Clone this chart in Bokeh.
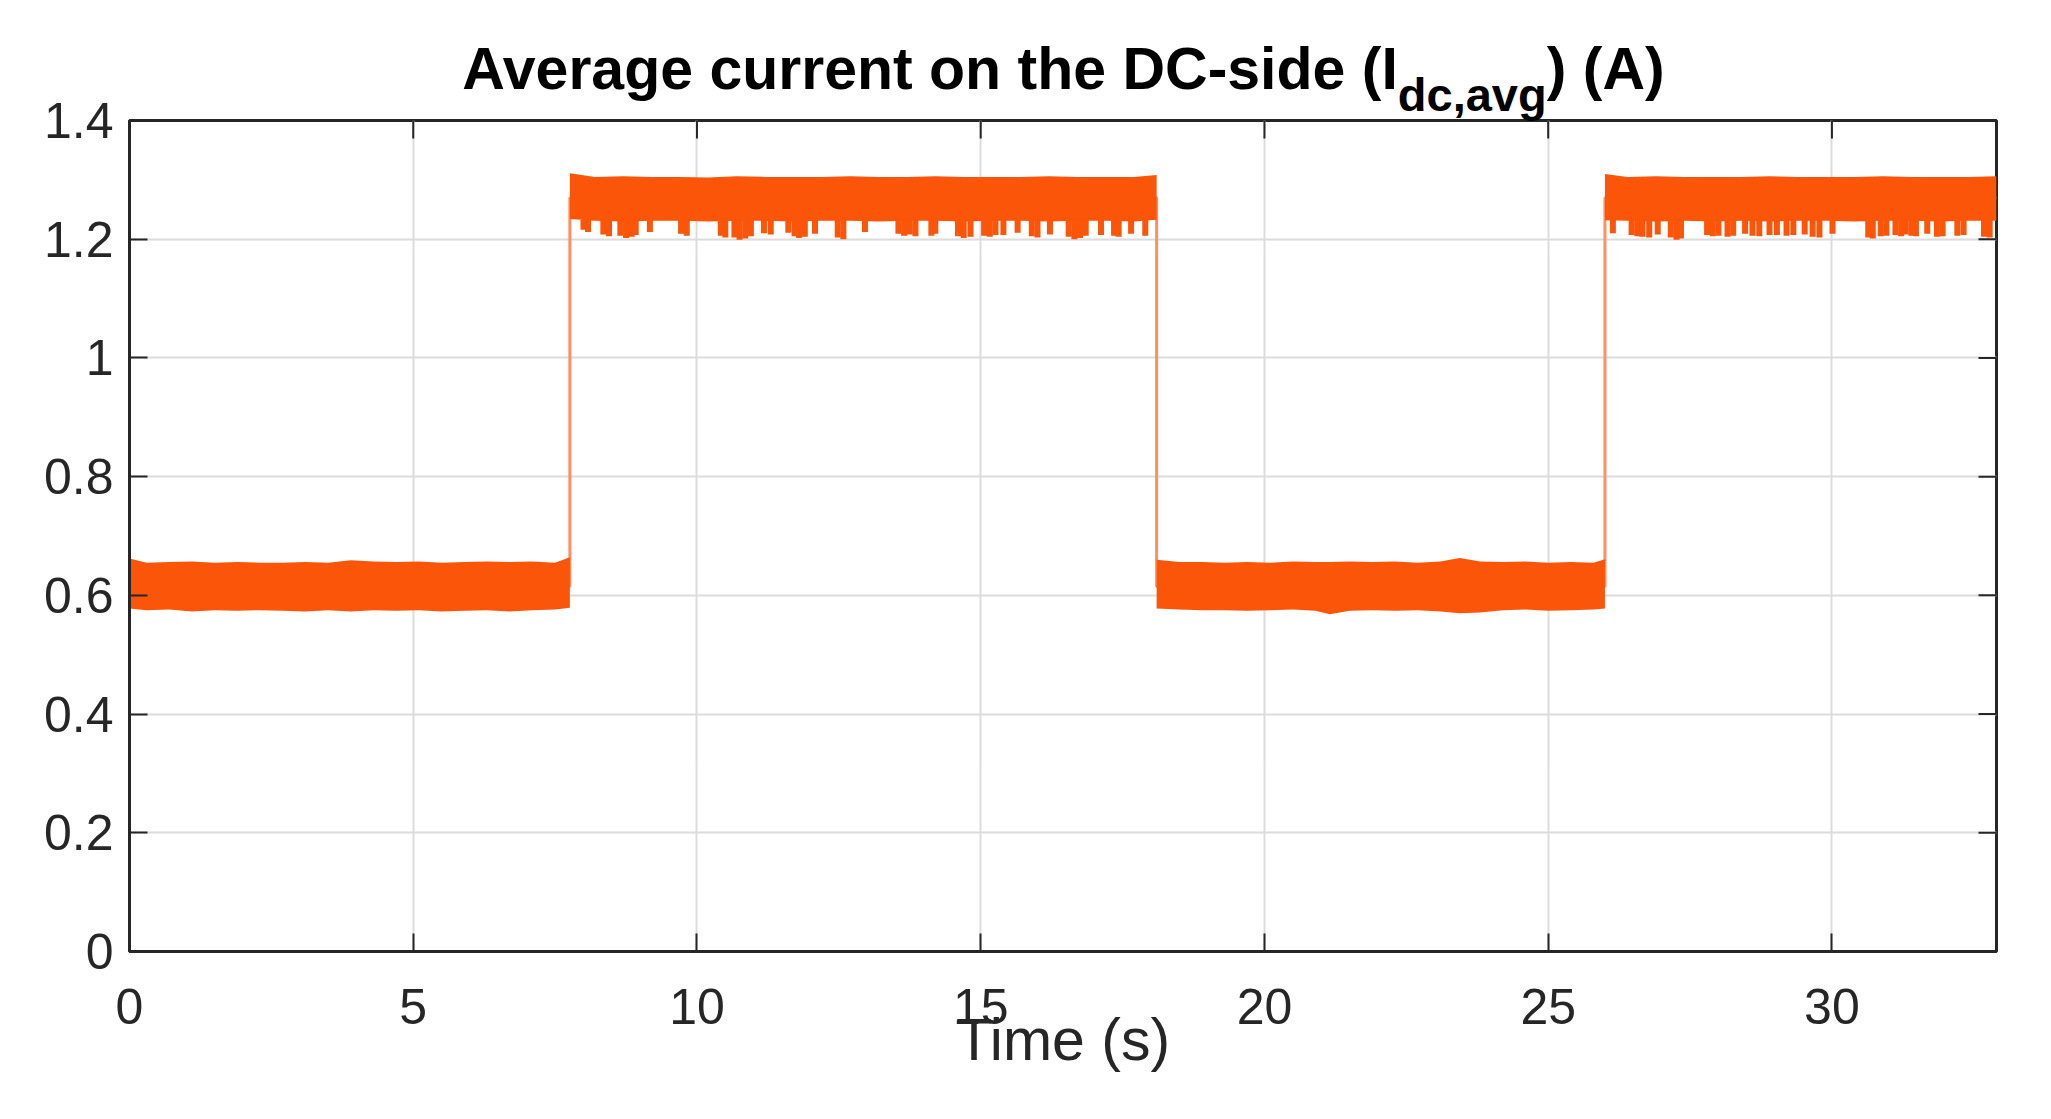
from bokeh.plotting import figure
from bokeh.models import Range1d, FixedTicker, Div
from bokeh.layouts import column
from bokeh.embed import file_html
from bokeh.resources import INLINE

# ---------------- data ----------------
x_ticks = [0, 5, 10, 15, 20, 25, 30]
y_ticks = [0, 0.2, 0.4, 0.6, 0.8, 1.0, 1.2, 1.4]
y_tick_labels = ["0", "0.2", "0.4", "0.6", "0.8", "1", "1.2", "1.4"]
x_max = 32.9
y_max = 1.4

title_main = "Average current on the DC-side (I"
title_sub = "dc,avg"
title_end = ") (A)"
x_label = "Time (s)"

# mean level transitions (step signal)
step_t = [0.0, 7.76, 7.76, 18.1, 18.1, 26.0, 26.0, 32.9]
step_v = [0.615, 0.615, 1.27, 1.27, 0.615, 0.615, 1.27, 1.27]

# low band 1 envelope
lowA_t = [0.0, 0.3, 0.7, 1.1, 1.5, 1.9, 2.3, 2.7, 3.1, 3.5, 3.9, 4.3, 4.7, 5.1, 5.5, 5.9, 6.3, 6.7, 7.1, 7.5, 7.76]
lowA_hi = [0.662, 0.655, 0.656, 0.657, 0.655, 0.656, 0.655, 0.655, 0.656, 0.655, 0.659, 0.657, 0.656, 0.657, 0.655, 0.656, 0.657, 0.656, 0.657, 0.655, 0.664]
lowA_lo = [0.578, 0.575, 0.576, 0.573, 0.575, 0.574, 0.575, 0.574, 0.573, 0.575, 0.573, 0.575, 0.574, 0.575, 0.573, 0.574, 0.575, 0.573, 0.575, 0.576, 0.579]

# low band 2 envelope
lowC_t = [18.1, 18.5, 18.9, 19.3, 19.7, 20.1, 20.5, 20.9, 21.15, 21.5, 21.9, 22.3, 22.7, 23.1, 23.44, 23.8, 24.2, 24.6, 25.0, 25.4, 25.8, 26.0]
lowC_hi = [0.660, 0.656, 0.656, 0.655, 0.656, 0.655, 0.657, 0.656, 0.656, 0.657, 0.656, 0.657, 0.655, 0.657, 0.663, 0.657, 0.656, 0.657, 0.655, 0.656, 0.655, 0.661]
lowC_lo = [0.578, 0.576, 0.575, 0.575, 0.574, 0.575, 0.576, 0.574, 0.568, 0.574, 0.575, 0.574, 0.575, 0.573, 0.570, 0.571, 0.575, 0.576, 0.574, 0.575, 0.576, 0.578]

# high band 1 envelope
hiB_t = [7.76, 8.2, 8.7, 9.2, 9.7, 10.2, 10.7, 11.2, 11.7, 12.2, 12.7, 13.2, 13.7, 14.2, 14.7, 15.2, 15.7, 16.2, 16.7, 17.2, 17.7, 18.1]
hiB_hi = [1.311, 1.305, 1.306, 1.305, 1.305, 1.304, 1.306, 1.305, 1.305, 1.305, 1.306, 1.305, 1.305, 1.306, 1.305, 1.305, 1.305, 1.306, 1.305, 1.305, 1.305, 1.308]
hiB_lo = [1.234, 1.231, 1.230, 1.231, 1.231, 1.230, 1.231, 1.231, 1.230, 1.231, 1.231, 1.230, 1.231, 1.231, 1.230, 1.231, 1.231, 1.230, 1.231, 1.231, 1.230, 1.233]

# high band 2 envelope
hiD_t = [26.0, 26.4, 26.9, 27.4, 27.9, 28.4, 28.9, 29.4, 29.9, 30.4, 30.9, 31.4, 31.9, 32.4, 32.9]
hiD_hi = [1.310, 1.305, 1.306, 1.305, 1.305, 1.305, 1.306, 1.305, 1.305, 1.305, 1.306, 1.305, 1.305, 1.305, 1.306]
hiD_lo = [1.232, 1.231, 1.230, 1.231, 1.230, 1.231, 1.230, 1.231, 1.231, 1.230, 1.231, 1.231, 1.230, 1.231, 1.231]

# downward spikes below the high bands (time, lowest value)
dip_t = [8.0, 8.08, 8.35, 8.45, 8.65, 8.75, 8.85, 8.92, 9.17, 9.72, 9.82, 10.42, 10.5, 10.66, 10.75, 10.85,
         10.95, 11.18, 11.3, 11.61, 11.72, 11.8, 11.9, 12.08, 12.48, 12.58, 12.96, 13.55, 13.65, 13.75, 13.85,
         14.13, 14.2, 14.6, 14.7, 14.82, 15.06, 15.16, 15.26, 15.4, 15.65, 15.9, 16.0, 16.22, 16.55, 16.65,
         16.75, 16.85, 17.12, 17.35, 17.43, 17.65, 17.9,
         26.14, 26.47, 26.57, 26.66, 26.78, 26.93, 27.16, 27.26, 27.34, 27.8, 27.9, 28.0, 28.16, 28.26,
         28.47, 28.6, 28.72, 28.9, 29.03, 29.2, 29.32, 29.52, 29.66, 29.78, 30.01, 30.64, 30.72, 30.86,
         30.96, 31.12, 31.22, 31.3, 31.4, 31.48, 31.68, 31.85, 31.95, 32.21, 32.32, 32.68, 32.78]
dip_v = [1.216, 1.212, 1.208, 1.205, 1.206, 1.202, 1.204, 1.207, 1.212, 1.209, 1.206, 1.206, 1.203, 1.203, 1.199, 1.201,
         1.205, 1.210, 1.208, 1.211, 1.205, 1.202, 1.204, 1.209, 1.203, 1.200, 1.212, 1.209, 1.206, 1.208, 1.205,
         1.206, 1.209, 1.205, 1.202, 1.204, 1.206, 1.204, 1.207, 1.207, 1.211, 1.205, 1.203, 1.208, 1.204, 1.200,
         1.202, 1.206, 1.207, 1.206, 1.204, 1.209, 1.206,
         1.210, 1.207, 1.205, 1.204, 1.203, 1.208, 1.203, 1.199, 1.201, 1.207, 1.205, 1.206, 1.204, 1.206,
         1.209, 1.206, 1.205, 1.207, 1.207, 1.206, 1.207, 1.208, 1.204, 1.203, 1.209, 1.203, 1.201, 1.205,
         1.206, 1.207, 1.205, 1.208, 1.206, 1.205, 1.209, 1.204, 1.205, 1.206, 1.207, 1.204, 1.203]
dip_top = [1.233] * len(dip_t)

# ---------------- figure ----------------
ORANGE = "#FA5509"
STEP = "#FF8E63"
AX = "#262626"
FONT = "Liberation Sans"
FRAME_W, FRAME_H = 1867, 831
TICK_PX = 18

p = figure(title=None, frame_width=FRAME_W, frame_height=FRAME_H,
           min_border_left=129, min_border_right=47, min_border_top=30, min_border_bottom=160,
           x_range=Range1d(0, x_max), y_range=Range1d(0, y_max),
           output_backend="svg", toolbar_location=None, background_fill_color="white",
           border_fill_alpha=0)
p.outline_line_color = AX
p.outline_line_width = 3

# signal
p.line(step_t, step_v, line_color=STEP, line_width=3)
p.varea(x=lowA_t, y1=lowA_lo, y2=lowA_hi, fill_color=ORANGE)
p.varea(x=lowC_t, y1=lowC_lo, y2=lowC_hi, fill_color=ORANGE)
p.varea(x=hiB_t, y1=hiB_lo, y2=hiB_hi, fill_color=ORANGE)
p.varea(x=hiD_t, y1=hiD_lo, y2=hiD_hi, fill_color=ORANGE)
p.segment(x0=dip_t, y0=dip_top, x1=dip_t, y1=dip_v, line_color=ORANGE, line_width=6)

# grid
p.xgrid.ticker = FixedTicker(ticks=x_ticks)
p.ygrid.ticker = FixedTicker(ticks=y_ticks)
for g in (p.xgrid, p.ygrid):
    g.grid_line_color = "#DCDCDC"
    g.grid_line_width = 2

# inward ticks on the top and right edges of the box
dx_tick = TICK_PX * x_max / FRAME_W
dy_tick = TICK_PX * y_max / FRAME_H
p.segment(x0=x_ticks, y0=[y_max] * len(x_ticks), x1=x_ticks, y1=[y_max - dy_tick] * len(x_ticks),
          line_color=AX, line_width=2)
p.segment(x0=[x_max] * len(y_ticks), y0=y_ticks, x1=[x_max - dx_tick] * len(y_ticks), y1=y_ticks,
          line_color=AX, line_width=2)

def style_axis(ax, ticks):
    ax.ticker = FixedTicker(ticks=ticks)
    ax.axis_line_color = AX
    ax.axis_line_width = 3
    ax.major_tick_line_color = AX
    ax.major_tick_line_width = 2
    ax.major_tick_in = TICK_PX
    ax.major_tick_out = 0
    ax.minor_tick_line_color = None
    ax.major_label_text_font = FONT
    ax.major_label_text_color = AX
    ax.major_label_text_font_size = "50px"

style_axis(p.xaxis[0], x_ticks)
style_axis(p.yaxis[0], y_ticks)
p.xaxis[0].major_label_standoff = 37
p.yaxis[0].major_label_standoff = 16
p.yaxis[0].major_label_overrides = {t: s for t, s in zip(y_ticks, y_tick_labels)}

xa = p.xaxis[0]
xa.axis_label = x_label
xa.axis_label_text_font = FONT
xa.axis_label_text_font_size = "59px"
xa.axis_label_text_font_style = "normal"
xa.axis_label_text_color = AX
xa.axis_label_standoff = -20

# title with subscript (HTML text above the figure)
title_html = (
    '<div style="width:2043px; height:80px; box-sizing:border-box; padding-left:84px; padding-top:40px; '
    'text-align:center; font-family:\'Liberation Sans\'; font-weight:bold; font-size:59px; '
    'line-height:59px; color:#000000; white-space:nowrap; overflow:visible;">'
    + title_main
    + '<span style="font-size:47px; position:relative; top:22px;">' + title_sub + '</span>'
    + title_end + '</div>'
)
title_div = Div(text=title_html, width=2043, height=90, margin=(0, 0, 0, 0),
                styles={"overflow": "visible", "z-index": "2"})

layout = column(title_div, p, spacing=0)
open("out.html", "w").write(file_html(layout, INLINE))
